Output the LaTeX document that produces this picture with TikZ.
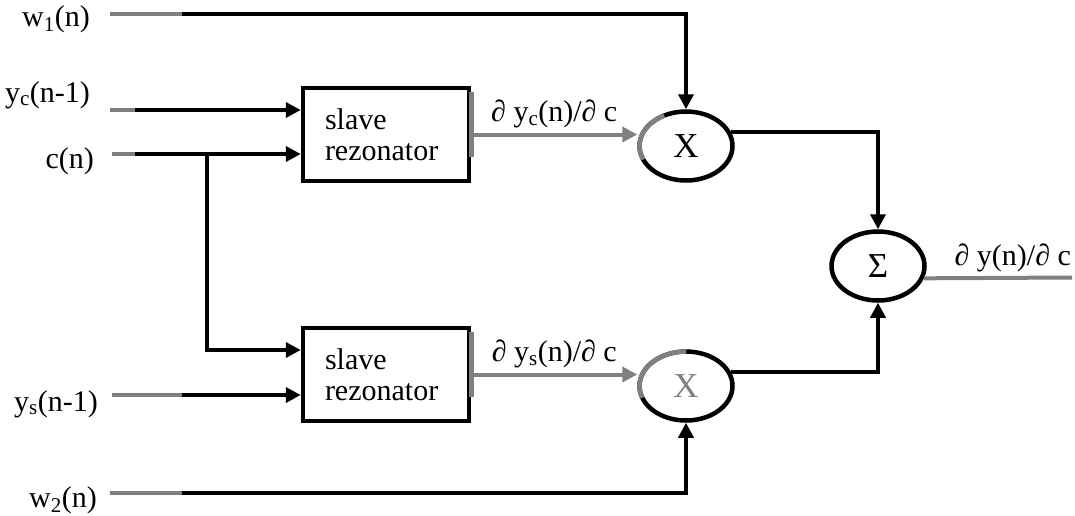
\documentclass[tikz,border=0pt]{standalone}
\usepackage{fontspec}
\setmainfont{Liberation Serif}
\usetikzlibrary{arrows.meta,positioning,shapes.geometric}
\definecolor{wiregray}{RGB}{128,128,128}
\newcommand{\lowidx}[1]{\textsubscript{#1}}

\begin{document}
\begin{tikzpicture}[x=1pt, y=-1pt, every node/.style={font=\fontsize{30}{31}\selectfont},
  blk/.style={draw,line width=4.5pt,minimum width=166pt,minimum height=93pt,inner sep=0pt,text width=122pt,align=left},
  op/.style={draw,ellipse,line width=4.5pt,minimum width=93pt,minimum height=69pt,inner sep=0pt,font=\fontsize{35}{36}\selectfont},
  wire/.style={line width=4.5pt},
  gwire/.style={line width=4pt,wiregray},
  arr/.style={-{Triangle[length=15pt,width=15pt]}},
  lbl/.style={anchor=east,inner sep=0pt}]
\useasboundingbox (0,0) rectangle (1075,515);
% blocks and operators
\node[blk] (ubox) at (386,134.5) {slave\\rezonator};
\node[blk] (lbox) at (386,374.5) {slave\\rezonator};
\node[op] (ux) at (686,146) {X};
\node[op,text=wiregray] (lx) at (686,386) {X};
\node[op] (sig) at (878,266) {Σ};
% input labels
\node[lbl] (lw1) at (90,19) {w\lowidx{1}(n)};
\node[lbl] (lyc) at (90,95) {y\lowidx{c}(n-1)};
\node[lbl] (lc) at (94,161) {c(n)};
\node[lbl] (lys) at (98,404) {y\lowidx{s}(n-1)};
\node[lbl] (lw2) at (97,500) {w\lowidx{2}(n)};
% wire ends
\coordinate (w1s) at (110,14); \coordinate (w1k) at (182,14);
\coordinate (ycs) at (110,110); \coordinate (yck) at (135,110);
\coordinate (cs) at (112,154); \coordinate (ck) at (135,154);
\coordinate (cbr) at (207,154);
\coordinate (yss) at (112,395); \coordinate (ysk) at (182,395);
\coordinate (w2s) at (110,493); \coordinate (w2k) at (182,493);
\coordinate (yout) at (1072,277.5);
% inputs
\draw[gwire] (w1s)--(w1k); \draw[wire,arr] (w1k) -| (ux.north);
\draw[gwire] (ycs)--(yck); \draw[wire,arr] (yck)--(ubox.west |- yck);
\draw[gwire] (cs)--(ck); \draw[wire,arr] (ck)--(ubox.west |- ck);
\draw[wire,arr] (cbr) |- ([yshift=24.5pt]lbox.west);
\draw[gwire] (yss)--(ysk); \draw[wire,arr] (ysk)--(lbox.west |- ysk);
\draw[gwire] (w2s)--(w2k); \draw[wire,arr] (w2k) -| (lx.south);
% derivatives
\draw[gwire,arr] (ubox.east) -- node[above=1pt,text=black] {∂ y\lowidx{c}(n)/∂ c} (ubox.east -| ux.west);
\draw[gwire,arr] (lbox.east) -- node[above=1pt,text=black] {∂ y\lowidx{s}(n)/∂ c} (lbox.east -| lx.west);
\draw[wire,arr] (ux.17) -| (sig.north);
\draw[wire,arr] (lx.17) -| (sig.south);
\draw[gwire] (sig.-15) -- node[above=1pt,text=black,pos=0.6] {∂ y(n)/∂ c} (yout);
% grey traces on outlines
\foreach \b in {ubox,lbox}
  \draw[wiregray,line width=4.5pt] ([yshift=42.5pt]\b.east) -- ([yshift=-22.5pt]\b.east);
\draw[wiregray,line width=4.5pt] ([shift={(118:46.5pt and 34.5pt)}]ux.center) arc[start angle=118,end angle=203,x radius=46.5pt,y radius=34.5pt];
\draw[wiregray,line width=4.5pt] ([shift={(90:46.5pt and 34.5pt)}]lx.center) arc[start angle=90,end angle=200,x radius=46.5pt,y radius=34.5pt];
\end{tikzpicture}
\end{document}
